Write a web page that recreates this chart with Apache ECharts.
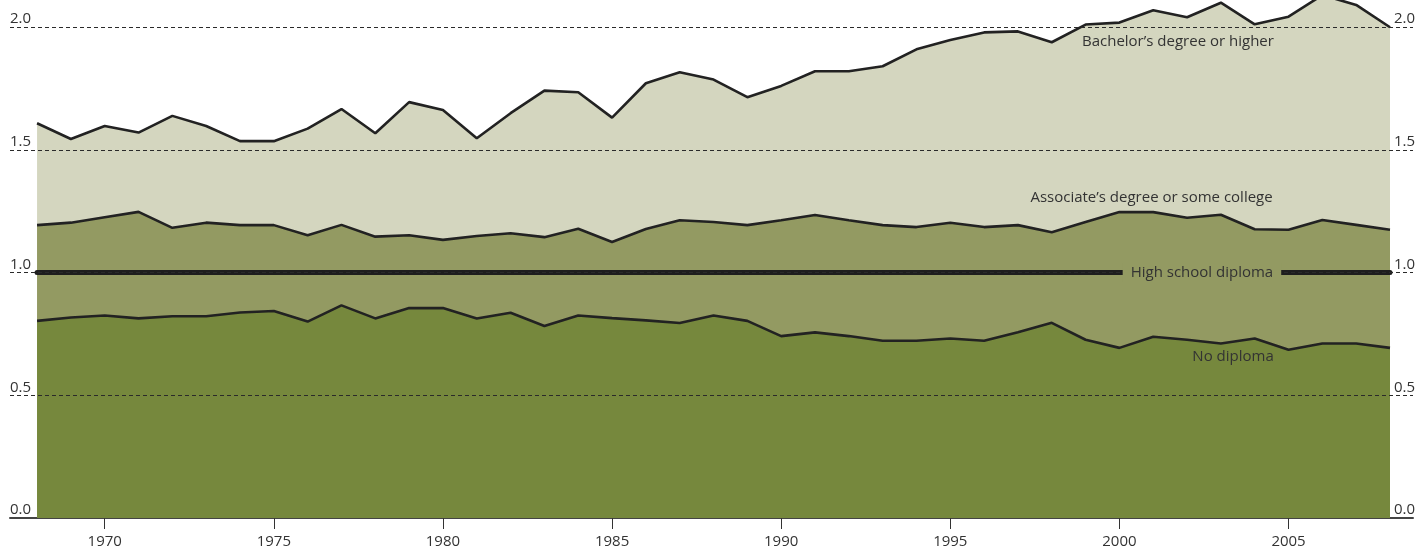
<!DOCTYPE html>
<html>
<head>
<meta charset="utf-8">
<script src="https://cdn.jsdelivr.net/npm/echarts@6/dist/echarts.min.js"></script>
<style>
  html, body { margin: 0; padding: 0; background: #fff; }
  #chart { width: 1428px; height: 555px; }
</style>
</head>
<body>
<div id="chart"></div>
<script>
const years = [1968, 1969, 1970, 1971, 1972, 1973, 1974, 1975, 1976, 1977, 1978, 1979, 1980,
  1981, 1982, 1983, 1984, 1985, 1986, 1987, 1988, 1989, 1990, 1991, 1992, 1993, 1994, 1995,
  1996, 1997, 1998, 1999, 2000, 2001, 2002, 2003, 2004, 2005, 2006, 2007, 2008]

const bachelor = [1.608, 1.544, 1.597, 1.570, 1.638, 1.597, 1.535, 1.535, 1.586, 1.666, 1.567,
  1.694, 1.662, 1.547, 1.649, 1.741, 1.734, 1.631, 1.771, 1.816, 1.786, 1.714, 1.760, 1.820,
  1.820, 1.840, 1.909, 1.947, 1.978, 1.982, 1.938, 2.010, 2.018, 2.068, 2.040, 2.099, 2.011,
  2.042, 2.130, 2.090, 1.999]

const associate = [1.193, 1.203, 1.225, 1.247, 1.182, 1.203, 1.193, 1.193, 1.152, 1.194, 1.146,
  1.152, 1.133, 1.149, 1.160, 1.144, 1.178, 1.124, 1.177, 1.213, 1.206, 1.193, 1.213, 1.234,
  1.213, 1.193, 1.185, 1.203, 1.185, 1.193, 1.164, 1.206, 1.246, 1.246, 1.223, 1.235, 1.176,
  1.174, 1.214, 1.194, 1.174]

const highSchool = years.map(() => 1.0)

const noDiploma = [0.803, 0.817, 0.825, 0.813, 0.822, 0.822, 0.837, 0.843, 0.800, 0.866, 0.813,
  0.855, 0.855, 0.813, 0.836, 0.782, 0.825, 0.814, 0.805, 0.794, 0.825, 0.803, 0.741, 0.756,
  0.741, 0.722, 0.722, 0.731, 0.722, 0.757, 0.795, 0.726, 0.693, 0.738, 0.726, 0.711, 0.731,
  0.685, 0.711, 0.711, 0.693]

const xTicks = [1970, 1975, 1980, 1985, 1990, 1995, 2000, 2005]
const gridValues = [0.5, 1.0, 1.5, 2.0]

const FONT = '"Open Sans", "Noto Sans", sans-serif'
const TEXT = '#333'
const LINE = '#222'

const pairs = vals => years.map((y, i) => [y, vals[i]])

function seriesLabel(text, coord, extra) {
  return {
    coord,
    symbolSize: 0,
    label: Object.assign({
      show: true,
      position: 'inside',
      formatter: text,
      color: TEXT,
      fontFamily: FONT,
      fontSize: 15,
    }, extra || {}),
  }
}

const chart = echarts.init(document.getElementById('chart'), null, { renderer: 'canvas' })

const yLabel = {
  inside: true,
  margin: 0,
  verticalAlign: 'bottom',
  color: TEXT,
  fontFamily: FONT,
  fontSize: 15,
  lineHeight: 16,
  showMaxLabel: false,
  formatter: v => v.toFixed(1),
}

chart.setOption({
  animation: false,
  grid: { left: 10, right: 15, top: 0, bottom: 37, containLabel: false },
  xAxis: {
    type: 'value',
    min: 1967.2,
    max: 2008.68,
    splitLine: { show: false },
    axisLine: { show: true, lineStyle: { color: '#444', width: 2 } },
    axisTick: { show: true, customValues: xTicks, length: 11, lineStyle: { color: '#333', width: 1 } },
    axisLabel: {
      customValues: xTicks, margin: 16, color: TEXT, fontFamily: FONT, fontSize: 15,
      formatter: v => String(v),
    },
  },
  yAxis: [
    {
      type: 'value', min: 0, max: 2.11, interval: 0.5, position: 'left',
      splitLine: { show: false }, axisLine: { show: false }, axisTick: { show: false },
      axisLabel: Object.assign({ align: 'left' }, yLabel),
    },
    {
      type: 'value', min: 0, max: 2.11, interval: 0.5, position: 'right',
      splitLine: { show: false }, axisLine: { show: false }, axisTick: { show: false },
      axisLabel: Object.assign({ align: 'right' }, yLabel, { margin: -2 }),
    },
  ],
  series: [
    {
      name: 'Bachelor’s degree or higher',
      type: 'line',
      data: pairs(bachelor),
      symbol: 'none',
      lineStyle: { color: LINE, width: 2.6 },
      areaStyle: { color: '#d4d6bf', opacity: 1 },
      markLine: {
        silent: true,
        symbol: ['none', 'none'],
        label: { show: false },
        lineStyle: { color: '#2a2a2a', width: 1, type: [4, 3] },
        data: gridValues.map(v => ({ yAxis: v })),
      },
      markPoint: { data: [seriesLabel('Bachelor’s degree or higher', [2001.73, 1.939])] },
    },
    {
      name: 'Associate’s degree or some college',
      type: 'line',
      data: pairs(associate),
      symbol: 'none',
      lineStyle: { color: LINE, width: 2.6 },
      areaStyle: { color: '#939a62', opacity: 1 },
      markPoint: { data: [seriesLabel('Associate’s degree or some college', [2000.95, 1.304])] },
    },
    {
      name: 'High school diploma',
      type: 'line',
      data: pairs(highSchool),
      symbol: 'none',
      lineStyle: { color: '#1e1e1e', width: 5, cap: 'round' },
      z: 3,
      markPoint: {
        z: 10,
        data: [seriesLabel('High school diploma', [2002.44, 1.0], {
          backgroundColor: '#939a62',
          padding: [2, 8, 2, 8],
        })],
      },
    },
    {
      name: 'No diploma',
      type: 'line',
      data: pairs(noDiploma),
      symbol: 'none',
      lineStyle: { color: LINE, width: 2.6 },
      areaStyle: { color: '#76883d', opacity: 1 },
      markPoint: { data: [seriesLabel('No diploma', [2003.36, 0.657])] },
    },
  ],
})
</script>
</body>
</html>
